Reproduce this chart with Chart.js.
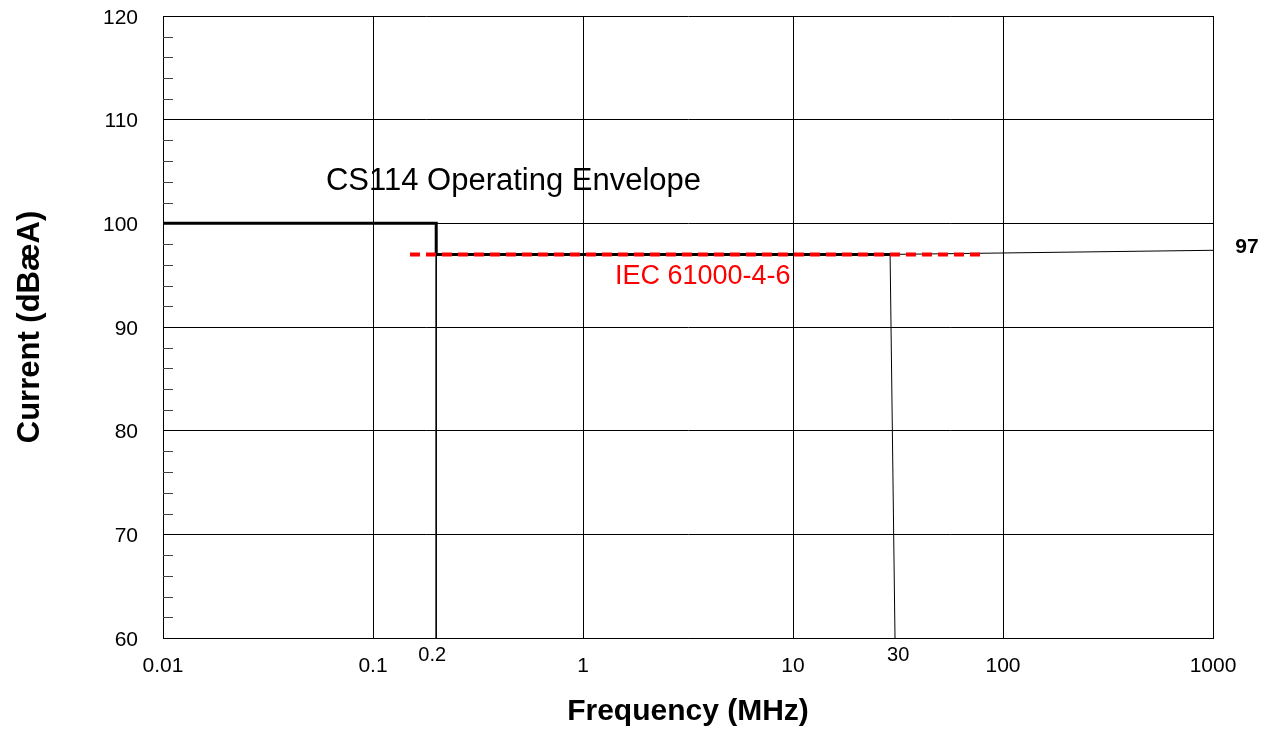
<!DOCTYPE html>
<html><head><meta charset="utf-8">
<script src="https://cdn.jsdelivr.net/npm/chart.js@4"></script>
<style>html,body{margin:0;padding:0;background:#fff;}</style>
</head><body>
<canvas id="c" width="1262" height="730" style="width:1262px;height:730px;display:block"></canvas>
<script>
const xTickValues = [0.01, 0.1, 1, 10, 100, 1000];
const extraXLabels = [0.2, 30];
const yMinorValues = [62,64,66,68,72,74,76,78,82,84,86,88,92,94,96,98,102,104,106,108,112,114,116,118];
const iecLimit = [{x:0.15, y:97}, {x:80, y:97}];
const cs114Envelope = [{x:0.01, y:100}, {x:0.2, y:100}, {x:0.2, y:97}, {x:29, y:97}];
const cs114Extension = [{x:29, y:97}, {x:1000, y:97.4}];
const drop02 = [{x:0.2, y:97}, {x:0.2, y:60}];
const drop30 = [{x:29, y:97}, {x:30.6, y:60}];

const FONT = "'Liberation Sans', Arial, sans-serif";

const overlay = {
  id: 'overlay',
  afterDraw(chart) {
    const ctx = chart.ctx, xs = chart.scales.x, ys = chart.scales.y, ca = chart.chartArea;
    ctx.save();
    // minor ticks
    ctx.strokeStyle = '#444'; ctx.lineWidth = 1;
    yMinorValues.forEach(v => {
      const py = Math.round(ys.getPixelForValue(v)) + 0.5;
      ctx.beginPath(); ctx.moveTo(ca.left, py); ctx.lineTo(ca.left + 10, py); ctx.stroke();
    });
    // extra x labels
    ctx.fillStyle = '#000'; ctx.font = '20px ' + FONT; ctx.textAlign = 'center'; ctx.textBaseline = 'middle';
    const offs = [-4, 5];
    extraXLabels.forEach((v, i) => ctx.fillText(String(v), xs.getPixelForValue(v) + offs[i], ca.bottom + 17));
    // annotations
    ctx.textAlign = 'left';
    ctx.font = '31px ' + FONT;
    ctx.fillText('CS114 Operating Envelope', xs.getPixelForValue(0.0597), ys.getPixelForValue(104.0));
    ctx.fillStyle = '#ff0000'; ctx.font = '27px ' + FONT;
    ctx.fillText('IEC 61000-4-6', xs.getPixelForValue(1.42), ys.getPixelForValue(94.83));
    ctx.fillStyle = '#000'; ctx.font = 'bold 21px ' + FONT; ctx.textAlign = 'center';
    ctx.fillText('97', ca.right + 34, ys.getPixelForValue(97) - 7);
    ctx.restore();
  }
};

new Chart(document.getElementById('c'), {
  type: 'scatter',
  data: {
    datasets: [
      {data: iecLimit, showLine: true, borderColor: '#ff0000', borderWidth: 4, borderDash: [10, 6], pointRadius: 0},
      {data: cs114Envelope, showLine: true, borderColor: '#000', borderWidth: 3, pointRadius: 0},
      {data: cs114Extension, showLine: true, borderColor: '#000', borderWidth: 1, pointRadius: 0},
      {data: drop02, showLine: true, borderColor: '#000', borderWidth: 1, pointRadius: 0},
      {data: drop30, showLine: true, borderColor: '#000', borderWidth: 1, pointRadius: 0}
    ]
  },
  options: {
    responsive: false, animation: false,
    layout: {padding: {left: 0, top: 16, right: 49, bottom: 0}},
    plugins: {legend: {display: false}, tooltip: {enabled: false}},
    scales: {
      x: {
        type: 'logarithmic', min: 0.01, max: 1000,
        afterBuildTicks: s => { s.ticks = xTickValues.map(v => ({value: v})); },
        afterFit: s => { s.height = 92; },
        ticks: {callback: v => String(v), font: {family: FONT, size: 21}, color: '#000', maxRotation: 0, autoSkip: false, padding: 0},
        grid: {color: '#000', lineWidth: 1, drawTicks: true, tickLength: 16, tickColor: 'rgba(0,0,0,0)'},
        border: {color: '#000', width: 1},
        title: {display: true, text: 'Frequency (MHz)', font: {family: FONT, size: 30, weight: 'bold'}, color: '#000', padding: {top: 0, bottom: 0}}
      },
      y: {
        min: 60, max: 120,
        afterFit: s => { s.width = 163; },
        ticks: {stepSize: 10, font: {family: FONT, size: 21}, color: '#000', padding: 0, labelOffset: 2},
        grid: {color: '#000', lineWidth: 1, drawTicks: true, tickLength: 25, tickColor: 'rgba(0,0,0,0)'},
        border: {color: '#000', width: 1},
        title: {display: true, text: 'Current (dBæA)', font: {family: FONT, size: 31, weight: 'bold'}, color: '#000', padding: {top: 12, bottom: 0}}
      }
    }
  },
  plugins: [overlay]
});
</script>
</body></html>
